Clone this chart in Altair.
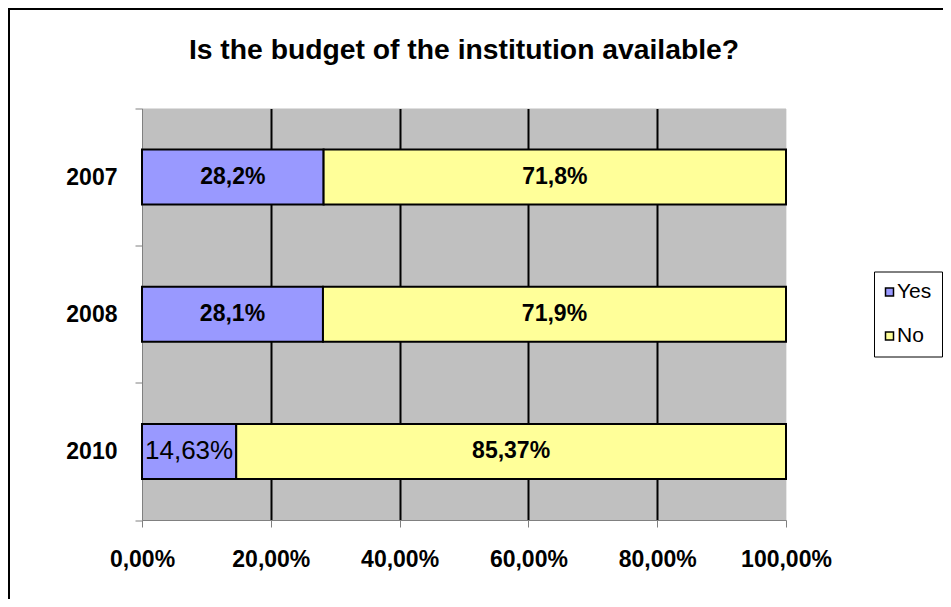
import altair as alt
import pandas as pd

# ---- data ----
years = ["2007", "2008", "2010"]
series = ["Yes", "No"]
yes_values = [0.282, 0.281, 0.1463]
no_values = [0.718, 0.719, 0.8537]
yes_labels = ["28,2%", "28,1%", "14,63%"]
no_labels = ["71,8%", "71,9%", "85,37%"]
x_ticks = [0, 0.2, 0.4, 0.6, 0.8, 1.0]
title_text = "Is the budget of the institution available?"

rows = []
for i, y in enumerate(years):
    rows.append({"year": y, "series": "Yes", "value": yes_values[i], "order": 0, "label": yes_labels[i]})
    rows.append({"year": y, "series": "No", "value": no_values[i], "order": 1, "label": no_labels[i]})
df = pd.DataFrame(rows)

FONT = "Liberation Sans"
W, H = 644, 411.5

base = alt.Chart(df)

y_enc = alt.Y(
    "year:N",
    sort=years,
    scale=alt.Scale(paddingInner=0, paddingOuter=0),
    axis=alt.Axis(
        title=None,
        labelFont=FONT, labelFontSize=23, labelFontWeight="bold", labelColor="black",
        labelPadding=18, tickSize=7, tickColor="#808080", tickBand="extent",
        domainColor="#808080", domainWidth=1, grid=False,
    ),
)

x_axis = alt.Axis(
    title=None,
    values=x_ticks,
    labelExpr="replace(format(datum.value, '.2%'), '.', ',')",
    labelFont=FONT, labelFontSize=23, labelFontWeight="bold", labelColor="black",
    labelPadding=21, tickSize=7, tickColor="#808080",
    labelOverlap=False, labelFlush=False, labelBound=False,
    domainColor="#808080", domainWidth=1,
    grid=True,
    gridColor={"condition": [
        {"test": "datum.value === 0", "value": "#808080"},
        {"test": "datum.value === 1", "value": "#E8E8E8"}], "value": "black"},
    gridWidth={"condition": [
        {"test": "datum.value === 0 || datum.value === 1", "value": 1}], "value": 2},
    gridOpacity=1,
)

bars = base.mark_bar(size=55, stroke="black", strokeWidth=2).encode(
    x=alt.X("value:Q", stack="zero", scale=alt.Scale(domain=[0, 1], nice=False), axis=x_axis),
    y=y_enc,
    color=alt.Color(
        "series:N",
        scale=alt.Scale(domain=series, range=["#9999FF", "#FFFF99"]),
        legend=alt.Legend(
            title=None, orient="none", legendX=732, legendY=163,
            fillColor="white", strokeColor="black", padding=10,
            labelFont=FONT, labelFontSize=21, labelColor="black",
            labelOffset={"expr": "-3"}, symbolOffset={"expr": "-5"},
            symbolType="square", symbolSize=64, symbolStrokeColor="black",
            symbolStrokeWidth=1.5, symbolOpacity=1, rowPadding=22,
        ),
    ),
    order=alt.Order("order:Q"),
)

stacked = base.transform_stack(
    stack="value", groupby=["year"], as_=["v0", "v1"], sort=[alt.SortField("order")]
).transform_calculate(mid="(datum.v0 + datum.v1) / 2")

labels_bold = stacked.transform_filter(
    "!(datum.year == '2010' && datum.series == 'Yes')"
).mark_text(font=FONT, fontSize=23, fontWeight="bold", color="black", baseline="middle").encode(
    x=alt.X("mid:Q"), y=alt.Y("year:N", sort=years), text="label:N"
)
labels_plain = stacked.transform_filter(
    "datum.year == '2010' && datum.series == 'Yes'"
).mark_text(font=FONT, fontSize=26, fontWeight="normal", color="black", baseline="middle").encode(
    x=alt.X("mid:Q"), y=alt.Y("year:N", sort=years), text="label:N"
)

one = alt.Chart(pd.DataFrame({"t": [title_text]}))
frame = one.mark_rect(fill=None, stroke="black", strokeWidth=2).encode(
    x=alt.value(-133), x2=alt.value(3000), y=alt.value(-99.5), y2=alt.value(3000)
)
title = one.mark_text(font=FONT, fontSize=28.3, fontWeight="bold", color="black",
                      align="center", baseline="alphabetic").encode(
    x=alt.value(W / 2), y=alt.value(-49.2), text="t:N"
)

chart = alt.layer(frame, bars, labels_bold, labels_plain, title).properties(
    width=W, height=H,
    autosize=alt.AutoSizeParams(type="none"),
    padding={"left": 134, "top": 100.5, "right": 935 - 134 - W, "bottom": 79},
    background="white",
).configure_view(fill="#C0C0C0", stroke=None).resolve_scale(x="shared", y="shared")

chart.save("out.html", embed_options={"renderer": "svg", "actions": False})
